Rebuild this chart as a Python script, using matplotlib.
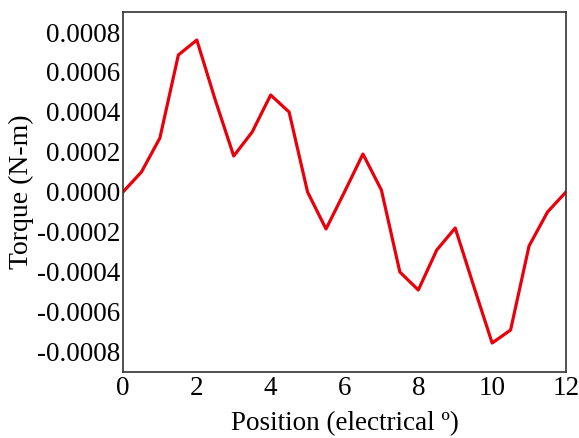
import matplotlib
import matplotlib.pyplot as plt
matplotlib.use('Agg')

# position (electrical degrees) and cogging torque (N-m)
position = [0, 0.5, 1, 1.5, 2, 2.5, 3, 3.5, 4, 4.5, 5, 5.5, 6, 6.5, 7, 7.5,
            8, 8.5, 9, 9.5, 10, 10.5, 11, 11.5, 12]
torque = [0.0, 0.0001, 0.00027, 0.000685, 0.00076, 0.00046, 0.00018, 0.0003,
          0.000485, 0.0004, 0.0, -0.000185, 0.0, 0.00019, 0.00001, -0.0004,
          -0.00049, -0.00029, -0.00018, -0.00047, -0.000755, -0.00069,
          -0.00027, -0.0001, 0.0]
yticks = [-0.0008, -0.0006, -0.0004, -0.0002, 0.0, 0.0002, 0.0004, 0.0006, 0.0008]
xticks = [0, 2, 4, 6, 8, 10, 12]

plt.rcParams['font.family'] = ['Liberation Serif', 'DejaVu Serif']

fig = plt.figure(figsize=(5.79, 4.38), dpi=100)
ax = fig.add_axes([0.2124, 0.1507, 0.7651, 0.8219])

ax.plot(position, torque, color='#e8000b', linewidth=2.3)

ax.set_xlim(0, 12)
ax.set_ylim(-0.0009, 0.0009)
ax.set_xticks(xticks)
ax.set_yticks(yticks)
ax.set_yticklabels([f"{v:.4f}" for v in yticks])
ax.tick_params(length=0, labelsize=19.5)
ax.tick_params(axis='y', pad=2)
ax.tick_params(axis='x', pad=3)

ax.set_xlabel('Position (electrical º)', fontsize=19.5, labelpad=7)
ax.set_ylabel('Torque (N-m)', fontsize=20, labelpad=2)

for side in ax.spines.values():
    side.set_color('#333333')
    side.set_linewidth(1.2)

fig.savefig('out.png', dpi=100)
